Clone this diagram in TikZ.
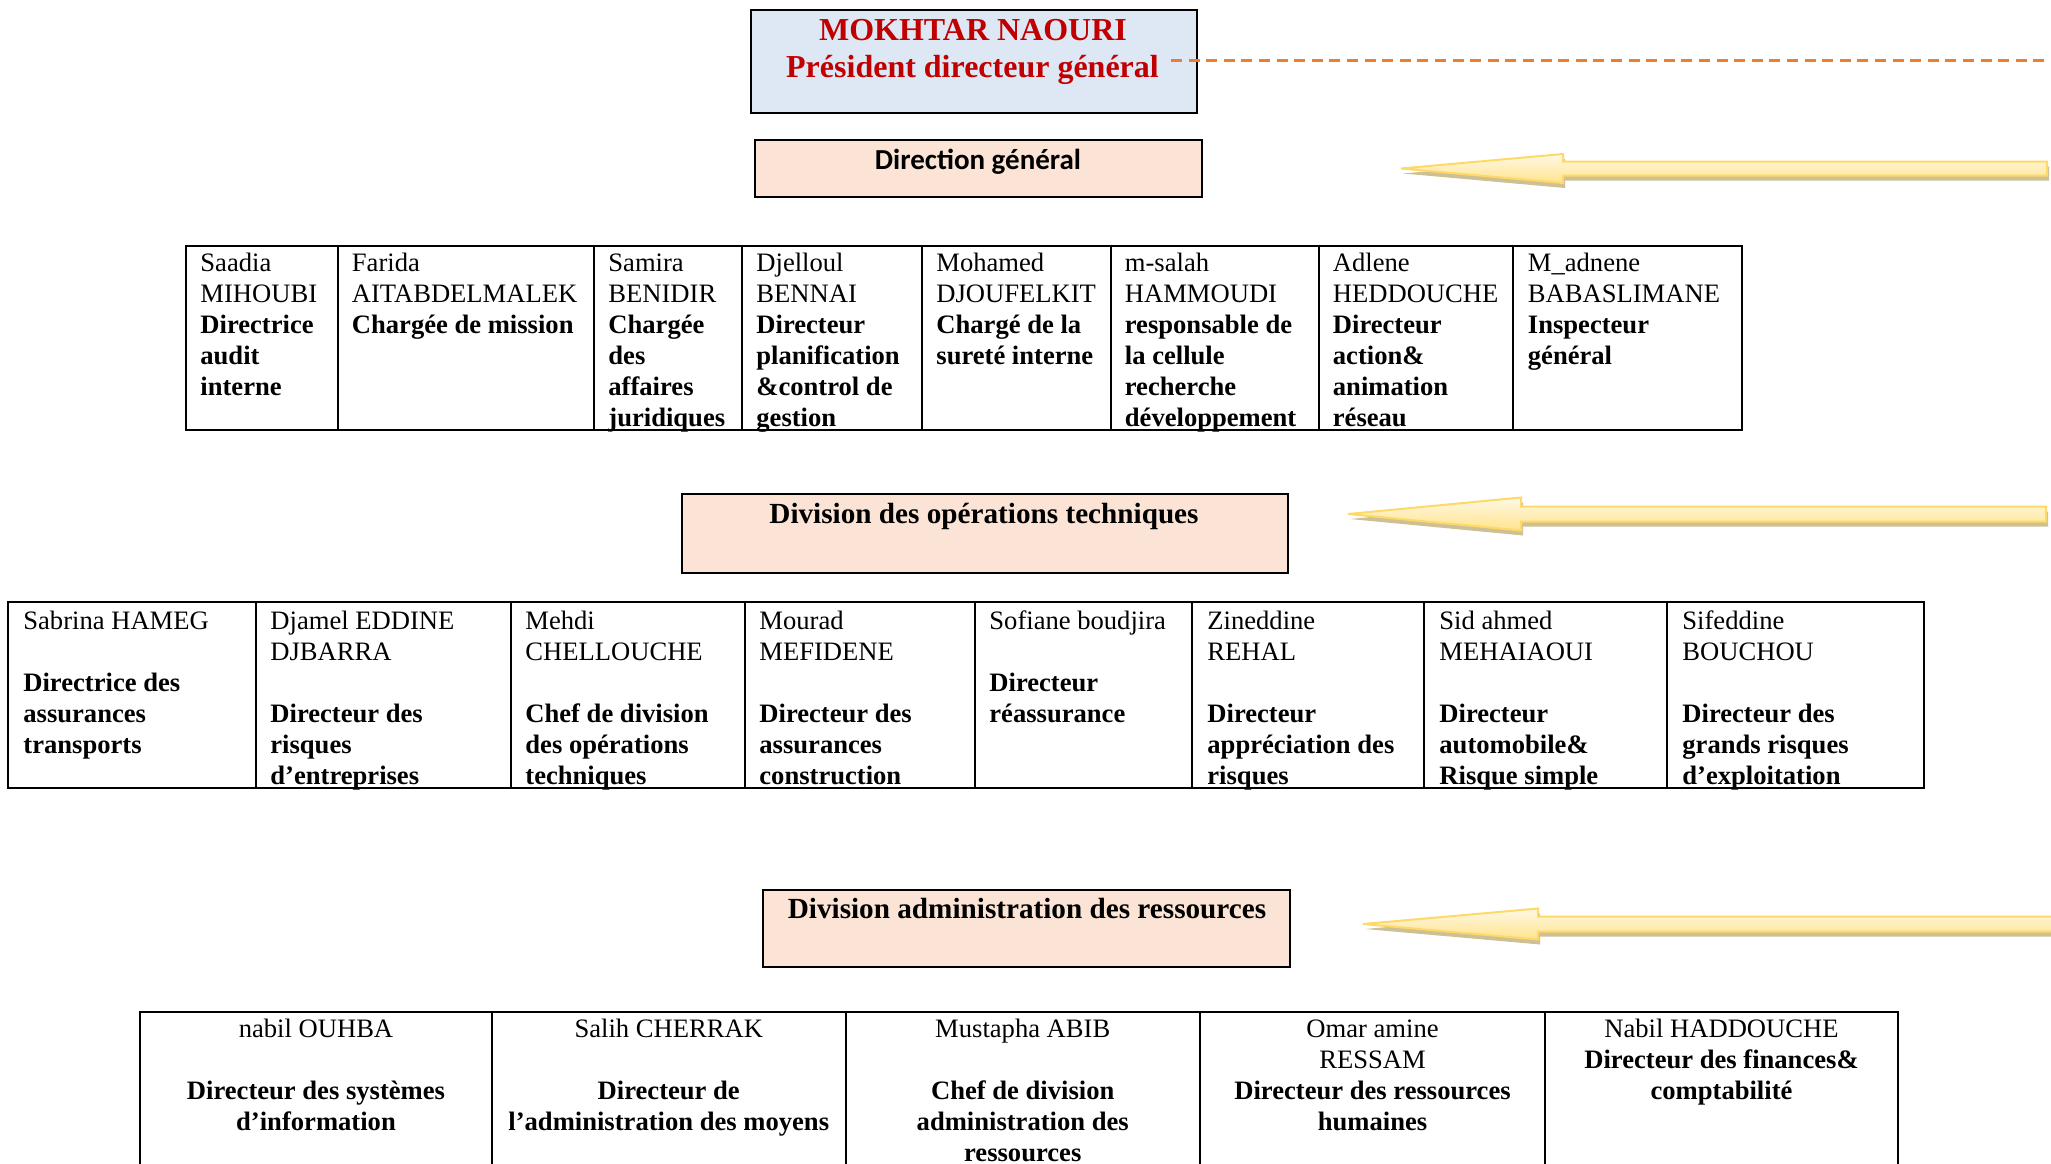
\documentclass[tikz,border=0pt]{standalone}
\usepackage{fontspec}
\setmainfont{Liberation Serif}
\newfontfamily\carlito{Carlito}
\usetikzlibrary{fit,calc}
\definecolor{pdgred}{HTML}{C00000}
\definecolor{pdgblue}{HTML}{DEE8F4}
\definecolor{divfill}{HTML}{FBE4D5}
\definecolor{dashorange}{HTML}{ED7D31}
\definecolor{arrowtop}{HTML}{FFF9E6}
\definecolor{arrowbot}{HTML}{FFE38C}
\definecolor{arrowline}{HTML}{FFD966}
\definecolor{arrowshade}{HTML}{C6B684}
\tikzset{
  frame/.style={draw=black, line width=1pt, inner sep=0pt},
  gridline/.style={draw=black, line width=1pt},
  celltext/.style={anchor=north west, align=left, inner sep=0pt, font=\fontsize{13.3}{15.5}\selectfont},
  cellcenter/.style={anchor=north, align=center, inner sep=0pt, font=\fontsize{13.3}{15.5}\selectfont},
  heading/.style={anchor=base, inner sep=0pt, font=\fontsize{14.6}{17}\selectfont\bfseries},
  pdgtext/.style={anchor=base, inner sep=0pt, text=pdgred, font=\fontsize{16}{18}\selectfont\bfseries},
  dashline/.style={draw=dashorange, line width=1.5pt, dash pattern=on 5.5pt off 3.3pt},
  arrowbody/.style={top color=arrowtop, bottom color=arrowbot, draw=arrowline, line width=1pt, line join=miter},
  arrowshadow/.style={fill=arrowshade, opacity=0.85},
}
\newcommand\myblockarrow[6]{% tip x, y, head base x, head half, shaft half, end x
  \path[arrowshadow, shift={(2,5)}] (#1,#2) -- (#3,#2-#4) -- (#3,#2-#5) -- (#6,#2-#5) -- (#6,#2+#5) -- (#3,#2+#5) -- (#3,#2+#4) -- cycle;
  \path[arrowbody] (#1,#2) -- (#3,#2-#4) -- (#3,#2-#5) -- (#6,#2-#5) -- (#6,#2+#5) -- (#3,#2+#5) -- (#3,#2+#4) -- cycle;
}
\begin{document}
\begin{tikzpicture}[x=0.5pt, y=-0.5pt]
\useasboundingbox (0,0) rectangle (2051,1163);
\clip (0,0) rectangle (2051,1163);
\fill[white] (0,0) rectangle (2051,1163);

% ---- President box
\node[frame, fill=pdgblue, fit={(751,10) (1197,113)}] (pdgbox) {};
\node[pdgtext] (pdgname) at (973,40.5) {MOKHTAR NAOURI};
\node[pdgtext] (pdgtitle) at (972.5,77) {Président directeur général};
\coordinate (dashstart) at (1171,60);
\coordinate (dashend) at (2051,60);
\draw[dashline] (dashstart) -- (dashend);

% ---- Direction general
\node[frame, fill=divfill, fit={(755,140) (1202,197)}] (dgbox) {};
\node[anchor=base, inner sep=0pt, font=\carlito\fontsize{14.5}{17}\selectfont\bfseries] (dgtext) at (978,169.2) {Direction général};
\myblockarrow{1401}{168.5}{1563}{14.5}{7}{2047}

% ---- Table 1
\draw[gridline] (186,246) rectangle (1742,430);
\foreach \x in {337.5,593.8,741.6,922.1,1110.5,1318.5,1513.4}
  \draw[gridline] (\x,246) -- (\x,430);
\node[celltext] (t1a) at (200,249.3) {\strut Saadia\\MIHOUBI\\\textbf{Directrice}\\\textbf{audit}\\\textbf{interne}};
\node[celltext] (t1b) at (351.5,249.3) {\strut Farida\\AITABDELMALEK\\\textbf{Chargée de mission}};
\node[celltext] (t1c) at (608,249.3) {\strut Samira\\BENIDIR\\\textbf{Chargée}\\\textbf{des}\\\textbf{affaires}\\\textbf{juridiques}};
\node[celltext] (t1d) at (756,249.3) {\strut Djelloul\\BENNAI\\\textbf{Directeur}\\\textbf{planification}\\\textbf{\&control de}\\\textbf{gestion}};
\node[celltext] (t1e) at (936,249.3) {\strut Mohamed\\DJOUFELKIT\\\textbf{Chargé de la}\\\textbf{sureté interne}};
\node[celltext] (t1f) at (1124.5,249.3) {\strut m-salah\\HAMMOUDI\\\textbf{responsable de}\\\textbf{la cellule}\\\textbf{recherche}\\\textbf{développement}};
\node[celltext] (t1g) at (1332.5,249.3) {\strut Adlene\\HEDDOUCHE\\\textbf{Directeur}\\\textbf{action\&}\\\textbf{animation}\\\textbf{réseau}};
\node[celltext] (t1h) at (1527.5,249.3) {\strut M\_adnene\\BABASLIMANE\\\textbf{Inspecteur}\\\textbf{général}};

% ---- Division des operations techniques
\node[frame, fill=divfill, fit={(682,494) (1288,573)}] (opsbox) {};
\node[heading] (opstext) at (984,523) {Division des opérations techniques};
\myblockarrow{1348}{514}{1521}{16.5}{7.5}{2046}

% ---- Table 2
\draw[gridline] (8,602) rectangle (1924,788);
\foreach \x in {256,511,745,975,1192,1424,1667}
  \draw[gridline] (\x,602) -- (\x,788);
\node[celltext] (t2a) at (23,607.8) {\strut Sabrina HAMEG\\\mbox{}\\\textbf{Directrice des}\\\textbf{assurances}\\\textbf{transports}};
\node[celltext] (t2b) at (270,607.8) {\strut Djamel EDDINE\\DJBARRA\\\mbox{}\\\textbf{Directeur des}\\\textbf{risques}\\\textbf{d’entreprises}};
\node[celltext] (t2c) at (525,607.8) {\strut Mehdi\\CHELLOUCHE\\\mbox{}\\\textbf{Chef de division}\\\textbf{des opérations}\\\textbf{techniques}};
\node[celltext] (t2d) at (759,607.8) {\strut Mourad\\MEFIDENE\\\mbox{}\\\textbf{Directeur des}\\\textbf{assurances}\\\textbf{construction}};
\node[celltext] (t2e) at (989,607.8) {\strut Sofiane boudjira\\\mbox{}\\\textbf{Directeur}\\\textbf{réassurance}};
\node[celltext] (t2f) at (1207,607.8) {\strut Zineddine\\REHAL\\\mbox{}\\\textbf{Directeur}\\\textbf{appréciation des}\\\textbf{risques}};
\node[celltext] (t2g) at (1439,607.8) {\strut Sid ahmed\\MEHAIAOUI\\\mbox{}\\\textbf{Directeur}\\\textbf{automobile\&}\\\textbf{Risque simple}};
\node[celltext] (t2h) at (1682,607.8) {\strut Sifeddine\\BOUCHOU\\\mbox{}\\\textbf{Directeur des}\\\textbf{grands risques}\\\textbf{d’exploitation}};

% ---- Division administration des ressources
\node[frame, fill=divfill, fit={(763,890) (1290,967)}] (admbox) {};
\node[heading] (admtext) at (1027,918.5) {Division administration des ressources};
\myblockarrow{1363}{924}{1538}{15.5}{7.5}{2070}

% ---- Table 3
\draw[gridline] (140,1200) -- (140,1012) -- (1898,1012) -- (1898,1200);
\foreach \x in {492,845.5,1200,1545}
  \draw[gridline] (\x,1012) -- (\x,1200);
\node[cellcenter] (t3a) at (316,1015) {\strut nabil OUHBA\\\mbox{}\\\textbf{Directeur des systèmes}\\\textbf{d’information}};
\node[cellcenter] (t3b) at (668.75,1015) {\strut Salih CHERRAK\\\mbox{}\\\textbf{Directeur de}\\\textbf{l’administration des moyens}};
\node[cellcenter] (t3c) at (1022.75,1015) {\strut Mustapha ABIB\\\mbox{}\\\textbf{Chef de division}\\\textbf{administration des}\\\textbf{ressources}};
\node[cellcenter] (t3d) at (1372.5,1015) {\strut Omar amine\\RESSAM\\\textbf{Directeur des ressources}\\\textbf{humaines}};
\node[cellcenter] (t3e) at (1721.5,1015) {\strut Nabil HADDOUCHE\\\textbf{Directeur des finances\&}\\\textbf{comptabilité}};
\end{tikzpicture}
\end{document}
